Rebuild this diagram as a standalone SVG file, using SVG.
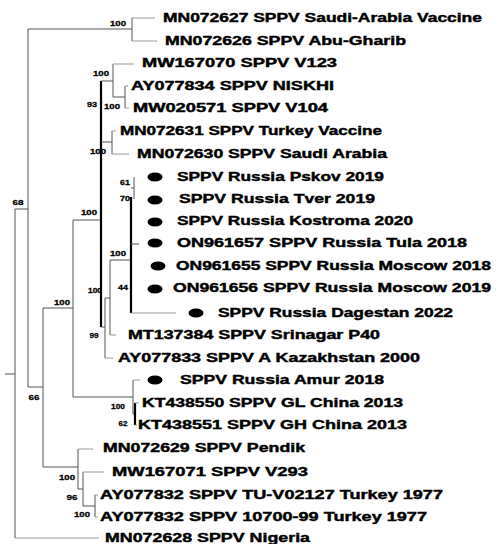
<svg xmlns="http://www.w3.org/2000/svg" width="499" height="544" viewBox="0 0 499 544">
<style>
.br{stroke:#555;stroke-width:1;fill:none}
.lf{stroke:#999;stroke-width:1;fill:none}
.tk{stroke:#000;stroke-width:2.2;fill:none}
.t{font-family:"Liberation Sans",Arial,sans-serif;font-weight:bold;font-size:12px;fill:#000;stroke:#000;stroke-width:0.4}
.b{font-family:"Liberation Sans",Arial,sans-serif;font-weight:bold;font-size:8px;fill:#000;stroke:#000;stroke-width:0.3;text-anchor:middle}
.d{fill:#000}
</style>
<rect width="499" height="544" fill="#fff"/>
<g id="connectors">
<path class="br" d="M5,374H15M15,209V538M15,209H28M28,29V387M28,29H132M132,18V41"/>
<path class="lf" d="M132,18H155M132,41H157"/>
<path class="br" d="M28,387H43M43,308V467M43,308H73M73,220V397M73,220H101"/>
<path class="tk" d="M101,81V327"/>
<path class="br" d="M101,81H113M113,64V97M113,97H125M125,86V108M101,142H112M112,131V154"/>
<path class="lf" d="M113,64H134M125,86H128M125,108H129M112,131H116M112,154H129"/>
<path class="br" d="M101,327H105M105,298V358M105,298H110M110,260V335M110,260H131"/>
<path class="lf" d="M105,358H113M110,335H116"/>
<path class="tk" d="M131,197V313"/>
<path class="br" d="M134,177V199M131,188H134M131,244H139"/>
<path class="lf" d="M131,313H176"/>
<path class="br" d="M73,397H133M133,380V414M133,414H135"/>
<path class="tk" d="M135,403V425"/>
<path class="lf" d="M133,380H140M135,403H139M135,425H137"/>
<path class="br" d="M43,467H78M78,449V489M78,489H83M83,472V506M83,506H95M95,495V517"/>
<path class="lf" d="M78,449H93M83,472H104M95,495H98M95,517H98M15,538H99"/>
</g>
<g id="support">
<text class="b" x="118" y="25.5" textLength="16" lengthAdjust="spacingAndGlyphs">100</text>
<text class="b" x="18" y="204.5" textLength="11" lengthAdjust="spacingAndGlyphs">68</text>
<text class="b" x="101" y="75.5" textLength="16" lengthAdjust="spacingAndGlyphs">100</text>
<text class="b" x="92" y="106.5" textLength="10" lengthAdjust="spacingAndGlyphs">93</text>
<text class="b" x="112" y="108.5" textLength="16" lengthAdjust="spacingAndGlyphs">100</text>
<text class="b" x="98" y="153.5" textLength="16" lengthAdjust="spacingAndGlyphs">100</text>
<text class="b" x="125" y="184.5" textLength="10" lengthAdjust="spacingAndGlyphs">61</text>
<text class="b" x="125" y="200.5" textLength="10" lengthAdjust="spacingAndGlyphs">70</text>
<text class="b" x="89" y="214.5" textLength="16" lengthAdjust="spacingAndGlyphs">100</text>
<text class="b" x="118" y="255.5" textLength="16" lengthAdjust="spacingAndGlyphs">100</text>
<text class="b" x="95" y="292.5" textLength="14" lengthAdjust="spacingAndGlyphs">100</text>
<text class="b" x="123" y="289.5" textLength="10" lengthAdjust="spacingAndGlyphs">44</text>
<text class="b" x="62" y="304.5" textLength="16" lengthAdjust="spacingAndGlyphs">100</text>
<text class="b" x="94" y="337.5" textLength="9" lengthAdjust="spacingAndGlyphs">99</text>
<text class="b" x="34" y="399.5" textLength="11" lengthAdjust="spacingAndGlyphs">66</text>
<text class="b" x="118" y="408.5" textLength="14" lengthAdjust="spacingAndGlyphs">100</text>
<text class="b" x="123" y="425.5" textLength="9" lengthAdjust="spacingAndGlyphs">62</text>
<text class="b" x="67" y="479.5" textLength="16" lengthAdjust="spacingAndGlyphs">100</text>
<text class="b" x="72" y="499.5" textLength="11" lengthAdjust="spacingAndGlyphs">96</text>
<text class="b" x="82" y="516.5" textLength="16" lengthAdjust="spacingAndGlyphs">100</text>
</g>
<g id="n1"><text class="t" x="163" y="22.3" textLength="319" lengthAdjust="spacingAndGlyphs">MN072627 SPPV Saudi-Arabia Vaccine</text></g>
<g id="n2"><text class="t" x="165" y="45.3" textLength="241" lengthAdjust="spacingAndGlyphs">MN072626 SPPV Abu-Gharib</text></g>
<g id="n3"><text class="t" x="142" y="67.3" textLength="195" lengthAdjust="spacingAndGlyphs">MW167070 SPPV V123</text></g>
<g id="n4"><text class="t" x="131" y="90.3" textLength="203" lengthAdjust="spacingAndGlyphs">AY077834 SPPV NISKHI</text></g>
<g id="n5"><text class="t" x="133" y="112.3" textLength="195" lengthAdjust="spacingAndGlyphs">MW020571 SPPV V104</text></g>
<g id="n6"><text class="t" x="120" y="135.3" textLength="262" lengthAdjust="spacingAndGlyphs">MN072631 SPPV Turkey Vaccine</text></g>
<g id="n7"><text class="t" x="137" y="158.3" textLength="250" lengthAdjust="spacingAndGlyphs">MN072630 SPPV Saudi Arabia</text></g>
<g id="n8"><ellipse class="d" cx="155" cy="177" rx="7.5" ry="4.5"/><text class="t" x="177" y="181.3" textLength="207" lengthAdjust="spacingAndGlyphs">SPPV Russia Pskov 2019</text></g>
<g id="n9"><ellipse class="d" cx="155" cy="200" rx="7.5" ry="4.5"/><text class="t" x="179" y="203.3" textLength="196" lengthAdjust="spacingAndGlyphs">SPPV Russia Tver 2019</text></g>
<g id="n10"><ellipse class="d" cx="155" cy="222" rx="7.5" ry="4.5"/><text class="t" x="177" y="225.3" textLength="236" lengthAdjust="spacingAndGlyphs">SPPV Russia Kostroma 2020</text></g>
<g id="n11"><ellipse class="d" cx="155" cy="243" rx="7.5" ry="4.5"/><text class="t" x="177" y="247.3" textLength="290" lengthAdjust="spacingAndGlyphs">ON961657 SPPV Russia Tula 2018</text></g>
<g id="n12"><ellipse class="d" cx="158" cy="266" rx="7.5" ry="4.5"/><text class="t" x="176" y="270.3" textLength="315" lengthAdjust="spacingAndGlyphs">ON961655 SPPV Russia Moscow 2018</text></g>
<g id="n13"><ellipse class="d" cx="155" cy="289" rx="7.5" ry="4.5"/><text class="t" x="173" y="292.3" textLength="318" lengthAdjust="spacingAndGlyphs">ON961656 SPPV Russia Moscow 2019</text></g>
<g id="n14"><ellipse class="d" cx="196" cy="313" rx="7.5" ry="4.5"/><text class="t" x="218" y="317.3" textLength="235" lengthAdjust="spacingAndGlyphs">SPPV Russia Dagestan 2022</text></g>
<g id="n15"><text class="t" x="128" y="339.3" textLength="252" lengthAdjust="spacingAndGlyphs">MT137384 SPPV Srinagar P40</text></g>
<g id="n16"><text class="t" x="118" y="362.3" textLength="302" lengthAdjust="spacingAndGlyphs">AY077833 SPPV A Kazakhstan 2000</text></g>
<g id="n17"><ellipse class="d" cx="155" cy="380" rx="7.5" ry="4.5"/><text class="t" x="180" y="384.3" textLength="204" lengthAdjust="spacingAndGlyphs">SPPV Russia Amur 2018</text></g>
<g id="n18"><text class="t" x="142" y="407.3" textLength="261" lengthAdjust="spacingAndGlyphs">KT438550 SPPV GL China 2013</text></g>
<g id="n19"><text class="t" x="138" y="429.3" textLength="269" lengthAdjust="spacingAndGlyphs">KT438551 SPPV GH China 2013</text></g>
<g id="n20"><text class="t" x="103" y="452.3" textLength="202" lengthAdjust="spacingAndGlyphs">MN072629 SPPV Pendik</text></g>
<g id="n21"><text class="t" x="112" y="476.3" textLength="196" lengthAdjust="spacingAndGlyphs">MW167071 SPPV V293</text></g>
<g id="n22"><text class="t" x="100" y="499.3" textLength="343" lengthAdjust="spacingAndGlyphs">AY077832 SPPV TU-V02127 Turkey 1977</text></g>
<g id="n23"><text class="t" x="100" y="521.3" textLength="327" lengthAdjust="spacingAndGlyphs">AY077832 SPPV 10700-99 Turkey 1977</text></g>
<g id="n24"><text class="t" x="105" y="542.3" textLength="205" lengthAdjust="spacingAndGlyphs">MN072628 SPPV Nigeria</text></g>
</svg>
